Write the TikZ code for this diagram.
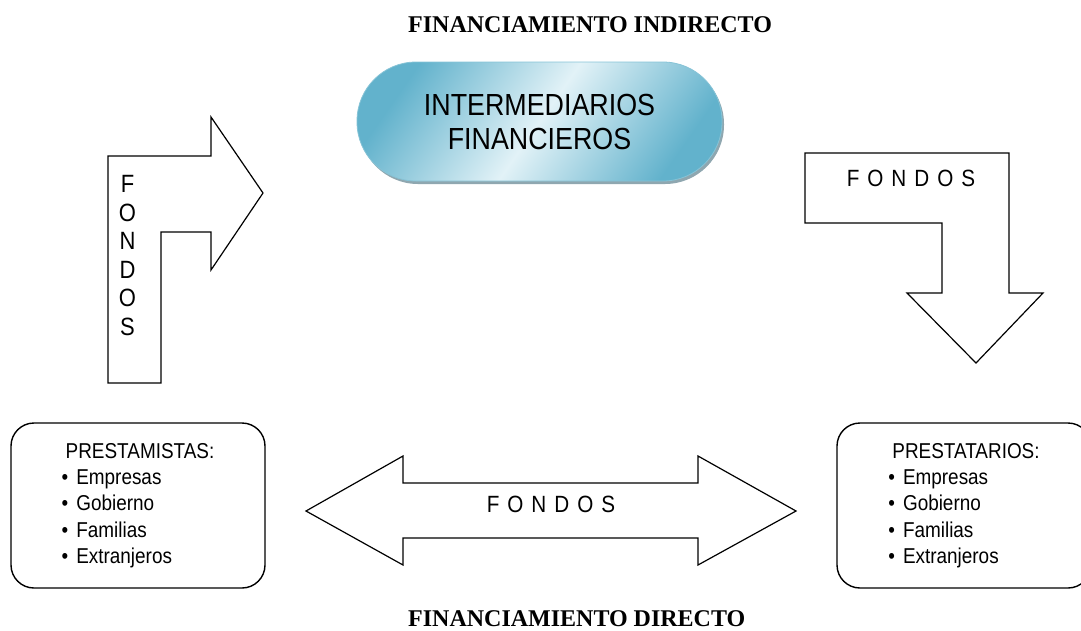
\documentclass[tikz,border=0pt]{standalone}
\usepackage{fontspec}
\setmainfont{Liberation Serif}
\newfontfamily\flowfont[FakeStretch=0.88]{Liberation Sans}
\usepackage{tikz}

\definecolor{bluedark}{HTML}{62B2CC}
\definecolor{bluelight}{HTML}{E2F2F7}
\definecolor{blueedge}{HTML}{86C3D6}
\definecolor{shadowgray}{HTML}{8FA7B0}

\newcommand{\fondos}{F\hspace{8pt}O\hspace{8pt}N\hspace{8pt}D\hspace{8pt}O\hspace{8pt}S}

\begin{document}
\begin{tikzpicture}[x=1pt,y=-1pt,
    title/.style={font=\bfseries\fontsize{24}{28}\selectfont,inner sep=0pt,anchor=west},
    word/.style={font=\flowfont\fontsize{23.5}{28}\selectfont,inner sep=0pt},
    block/.style={draw,line width=1.2pt,line join=miter},
    inter/.style={draw=blueedge,line width=0.8pt,rounded corners=59pt,
        minimum width=365pt,minimum height=119pt,
        left color=bluedark,right color=bluedark,middle color=bluelight,shading angle=55,
        align=center,font=\flowfont\fontsize{30.5}{34}\selectfont},
    agent/.style={draw,line width=1.4pt,rounded corners=23pt,
        minimum width=254pt,minimum height=165pt,inner sep=0pt,
        align=left,font=\flowfont\fontsize{21.5}{26.3}\selectfont}]
            \useasboundingbox (0,0) rectangle (1081,630);
            \node[title] (indirect) at (408,24.5) {FINANCIAMIENTO INDIRECTO};
            \node[title] (direct) at (408,619) {FINANCIAMIENTO DIRECTO};
            \fill[shadowgray,rounded corners=59pt] (359,65) rectangle (724,184);
            \node[inter] (banks) at (539.5,121.5) {INTERMEDIARIOS\\FINANCIEROS};
            \draw[block] (108,383) -- (108,156) -- (211,156) -- (211,117) -- (263,193)
                -- (211,270) -- (211,232) -- (161,232) -- (161,383) -- cycle;
            \draw[block] (805,153) -- (1009,153) -- (1009,293) -- (1043,293) -- (976,363)
                -- (907,293) -- (942,293) -- (942,223) -- (805,223) -- cycle;
            \draw[block] (306,511) -- (403,456) -- (403,483) -- (698,483) -- (698,456)
                -- (796,511) -- (698,565) -- (698,538) -- (403,538) -- (403,565) -- cycle;
            \node[word,align=center,font=\flowfont\fontsize{25}{28.6}\selectfont] (upword)
                at (127.5,255.5) {F\\O\\N\\D\\O\\S};
            \node[word] (downword) at (911,178) {\fondos};
            \node[word] (bothword) at (551,504) {\fondos};
            \node[agent] (lenders) at (138,505.5)
                {\hspace*{4pt}PRESTAMISTAS:\\\textbullet\hspace{8pt}Empresas\\\textbullet\hspace{8pt}Gobierno\\\textbullet\hspace{8pt}Familias\\\textbullet\hspace{8pt}Extranjeros};
            \node[agent] (borrowers) at (964,505.5)
                {\hspace*{4pt}PRESTATARIOS:\\\textbullet\hspace{8pt}Empresas\\\textbullet\hspace{8pt}Gobierno\\\textbullet\hspace{8pt}Familias\\\textbullet\hspace{8pt}Extranjeros};
        \end{tikzpicture}
\end{document}
